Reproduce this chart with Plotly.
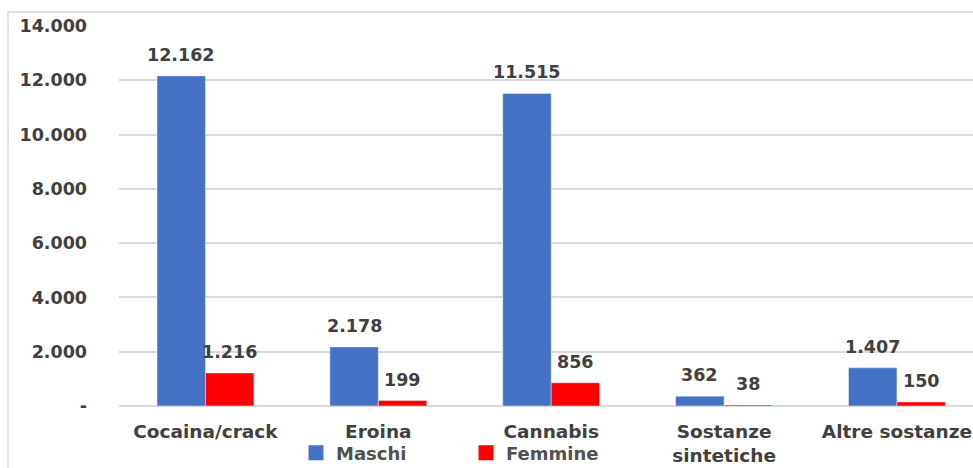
import plotly.graph_objects as go

categories = ["Cocaina/crack", "Eroina", "Cannabis", "Sostanze<br>sintetiche", "Altre sostanze"]
maschi = [12162, 2178, 11515, 362, 1407]
femmine = [1216, 199, 856, 38, 150]
series_names = ["Maschi", "Femmine"]
series_colors = ["#4472C4", "#FF0000"]
y_tickvals = [0, 2000, 4000, 6000, 8000, 10000, 12000, 14000]
y_ticktext = ["-", "2.000", "4.000", "6.000", "8.000", "10.000", "12.000", "14.000"]

def fmt(v):
    return f"{v:,}".replace(",", ".")

FONT = "DejaVu Sans"
TXT = "#404040"

fig = go.Figure()
for name, vals, col in zip(series_names, [maschi, femmine], series_colors):
    fig.add_trace(go.Bar(name=name, x=categories, y=vals, marker_color=col, showlegend=False))
# legend entries with larger square symbols
for name, col in zip(series_names, series_colors):
    fig.add_trace(go.Scatter(name=f"<b>{name}</b>", x=[None], y=[None], mode="markers",
                             marker=dict(symbol="square", size=15, color=col), showlegend=True))

off = 0.14
for i, (m, f) in enumerate(zip(maschi, femmine)):
    for val, dx in ((m, -off), (f, off)):
        fig.add_annotation(x=i + dx, y=val, text=f"<b>{fmt(val)}</b>", showarrow=False,
                           yanchor="middle", yshift=21, xref="x", yref="y",
                           font=dict(family=FONT, size=17.5, color=TXT))

fig.add_shape(type="rect", xref="paper", yref="paper",
              x0=(8 - 119) / 854, x1=1.1, y0=-0.3, y1=(406 - 12) / 380,
              line=dict(color="#d9d9d9", width=1.5), layer="below")

fig.update_layout(
    width=973, height=468,
    margin=dict(l=119, r=0, t=26, b=62, autoexpand=False),
    paper_bgcolor="white", plot_bgcolor="white",
    barmode="group", bargap=0.44, bargroupgap=0,
    font=dict(family=FONT, size=17, color=TXT),
    showlegend=True,
    legend=dict(orientation="h", x=(296 - 119) / 854, xanchor="left",
                yref="container", y=1 - 453 / 468, yanchor="middle",
                font=dict(family=FONT, size=18, color="#505050"),
                entrywidth=125, entrywidthmode="pixels", itemsizing="trace",
                bgcolor="rgba(0,0,0,0)"),
    xaxis=dict(type="category", range=[-0.5, 4.44], showgrid=False,
               tickfont=dict(family=FONT, size=18.5, color=TXT),
               ticklabelstandoff=12, showline=False, zeroline=False,
               tickprefix="<b>", ticksuffix="</b>", automargin=False),
    yaxis=dict(range=[0, 14000], tickvals=y_tickvals, ticktext=[f"<b>{t}</b>" for t in y_ticktext],
               showgrid=True, gridcolor="#d9d9d9", gridwidth=1.5,
               zeroline=True, zerolinecolor="#d9d9d9", zerolinewidth=1.5,
               tickfont=dict(family=FONT, size=17.5, color=TXT),
               ticklabelstandoff=31, automargin=False),
)

fig.write_html("out.html", config={"displayModeBar": False},
               post_script="document.body.style.margin='0';document.body.style.overflow='hidden';")
